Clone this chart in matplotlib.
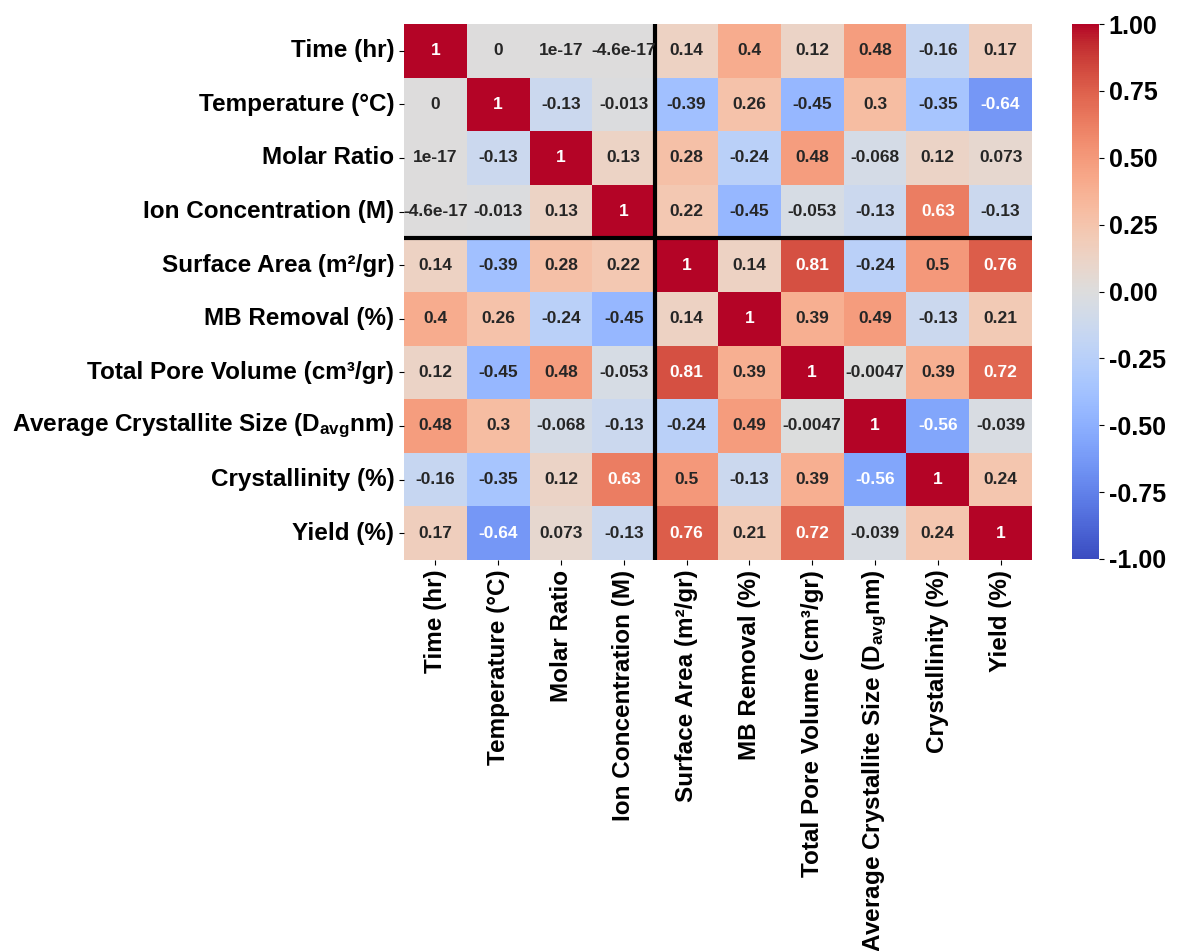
import numpy as np
import matplotlib
matplotlib.use("Agg")
import matplotlib.pyplot as plt
import seaborn as sns
from matplotlib.ticker import FixedLocator, FormatStrFormatter

plt.rcParams['font.family'] = ['Liberation Sans', 'DejaVu Sans']
plt.rcParams['font.weight'] = 'bold'
plt.rcParams['mathtext.fontset'] = 'custom'
plt.rcParams['mathtext.rm'] = 'Liberation Sans:bold'
plt.rcParams['mathtext.bf'] = 'Liberation Sans:bold'
plt.rcParams['mathtext.it'] = 'Liberation Sans:bold'

labels = [
    "Time (hr)",
    "Temperature (°C)",
    "Molar Ratio",
    "Ion Concentration (M)",
    "Surface Area (m²/gr)",
    "MB Removal (%)",
    "Total Pore Volume (cm³/gr)",
    r"Average Crystallite Size (D$_{\mathrm{avg}}$nm)",
    "Crystallinity (%)",
    "Yield (%)",
]

row_time = [1, 0, 1e-17, -4.6e-17, 0.14, 0.4, 0.12, 0.48, -0.16, 0.17]
row_temp = [0, 1, -0.13, -0.013, -0.39, 0.26, -0.45, 0.3, -0.35, -0.64]
row_molar = [1e-17, -0.13, 1, 0.13, 0.28, -0.24, 0.48, -0.068, 0.12, 0.073]
row_ion = [-4.6e-17, -0.013, 0.13, 1, 0.22, -0.45, -0.053, -0.13, 0.63, -0.13]
row_sa = [0.14, -0.39, 0.28, 0.22, 1, 0.14, 0.81, -0.24, 0.5, 0.76]
row_mb = [0.4, 0.26, -0.24, -0.45, 0.14, 1, 0.39, 0.49, -0.13, 0.21]
row_tpv = [0.12, -0.45, 0.48, -0.053, 0.81, 0.39, 1, -0.0047, 0.39, 0.72]
row_acs = [0.48, 0.3, -0.068, -0.13, -0.24, 0.49, -0.0047, 1, -0.56, -0.039]
row_cryst = [-0.16, -0.35, 0.12, 0.63, 0.5, -0.13, 0.39, -0.56, 1, 0.24]
row_yield = [0.17, -0.64, 0.073, -0.13, 0.76, 0.21, 0.72, -0.039, 0.24, 1]

cbar_ticks = [-1.0, -0.75, -0.5, -0.25, 0.0, 0.25, 0.5, 0.75, 1.0]
split_index = 4

corr = np.array([row_time, row_temp, row_molar, row_ion, row_sa,
                 row_mb, row_tpv, row_acs, row_cryst, row_yield])

W, H = 1177, 951
fig = plt.figure(figsize=(W / 100, H / 100), dpi=100)
ax = fig.add_axes([404 / W, 1 - 560 / H, 628 / W, 536 / H])
cax = fig.add_axes([1072 / W, 1 - 559 / H, 27 / W, 535 / H])

sns.heatmap(corr, ax=ax, cbar_ax=cax, cmap='coolwarm', vmin=-1, vmax=1,
            annot=True, fmt='.2g',
            annot_kws={'fontsize': 12.5, 'fontweight': 'bold'},
            xticklabels=labels, yticklabels=labels)

ax.axvline(split_index, color='black', lw=3)
ax.axhline(split_index, color='black', lw=3)

ax.set_xticklabels(labels, rotation=90, fontsize=17.5, fontweight='bold')
ax.set_yticklabels(labels, rotation=0, fontsize=17.5, fontweight='bold')

cax.yaxis.set_major_locator(FixedLocator(cbar_ticks))
cax.yaxis.set_major_formatter(FormatStrFormatter('%.2f'))
for t in cax.get_yticklabels():
    t.set_fontsize(18)
    t.set_fontweight('bold')

fig.savefig('out.png', dpi=100)
